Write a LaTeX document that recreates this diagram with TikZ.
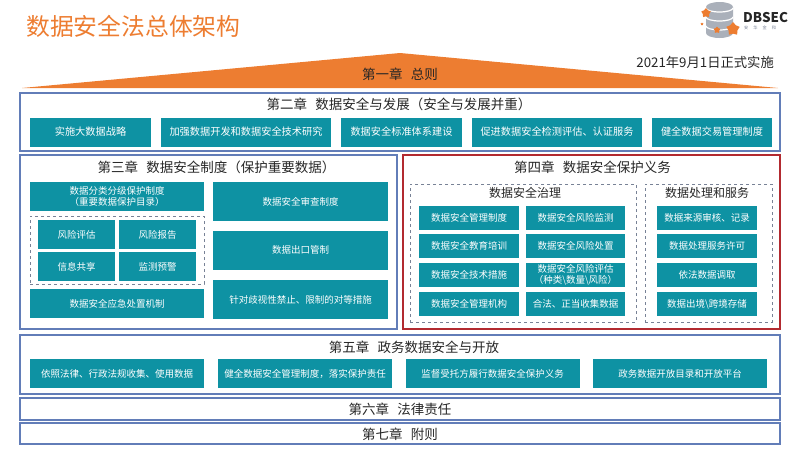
\documentclass[tikz,border=0pt]{standalone}
\usepackage{fontspec}
\setmainfont{Noto Sans CJK SC}
\usetikzlibrary{shapes.geometric}
\definecolor{dsorange}{RGB}{237,125,49}
\definecolor{dsteal}{RGB}{14,146,163}
\definecolor{dsblue}{RGB}{98,125,184}
\definecolor{dsred}{RGB}{178,42,48}
\definecolor{dsgrey}{RGB}{120,130,150}
\definecolor{dsink}{RGB}{38,38,38}
\definecolor{dslogo}{RGB}{170,176,186}
\newcommand{\chapgap}{\hspace{.6em}}

\tikzset{
  cell/.style 2 args={fill=dsteal,text=white,minimum width=#1pt,minimum height=#2pt,
    inner sep=0pt,align=center,font=\fontsize{9.5}{11.5}\selectfont},
  widecell/.style={font=\fontsize{10.2}{12}\selectfont},
  frame/.style 2 args={draw=dsblue,line width=1.6pt,minimum width=#1pt,minimum height=#2pt,inner sep=0pt},
  redframe/.style 2 args={draw=dsred,line width=1.6pt,minimum width=#1pt,minimum height=#2pt,inner sep=0pt},
  dashframe/.style 2 args={draw=dsgrey,dashed,line width=.8pt,minimum width=#1pt,minimum height=#2pt,inner sep=0pt},
  chapter/.style={text=dsink,inner sep=0pt,font=\fontsize{13.5}{16}\selectfont},
  subchapter/.style={chapter,font=\fontsize{12}{14}\selectfont},
}

\begin{document}
\begin{tikzpicture}[x=1pt,y=-1pt]
  \useasboundingbox (0,0) rectangle (799,461);
  % title and date
  \node[text=dsorange,anchor=west,inner sep=0pt,font=\fontsize{23.8}{28}\selectfont] (title) at (26,26) {数据安全法总体架构};
  \node[text=dsink,anchor=east,inner sep=0pt,font=\fontsize{13.3}{15}\selectfont] (date) at (774,62.5) {2021年9月1日正式实施};
  % logo
  \fill[dslogo] (706,7) -- (706,33) arc[x radius=13.5,y radius=5,start angle=180,end angle=0] -- (733,7) arc[x radius=13.5,y radius=5,start angle=0,end angle=-180] -- cycle;
  \draw[white,line width=1.2pt] (706,8) arc[x radius=13.5,y radius=4,start angle=180,end angle=0];
  \draw[white,line width=1.2pt] (706,17) arc[x radius=13.5,y radius=4,start angle=180,end angle=0];
  \draw[white,line width=1.2pt] (706,26) arc[x radius=13.5,y radius=4,start angle=180,end angle=0];
  \node[star,star points=5,fill=dsorange,minimum size=10pt,inner sep=0pt] (stara) at (706,13) {};
  \node[star,star points=5,fill=dsorange,minimum size=3pt,inner sep=0pt] (starb) at (702,24) {};
  \node[star,star points=5,fill=dsorange,minimum size=7pt,inner sep=0pt] (starc) at (717,30) {};
  \node[star,star points=5,fill=dsorange,minimum size=14pt,inner sep=0pt] (stard) at (733,29) {};
  \node[text=dsink,anchor=west,inner sep=0pt,font=\fontsize{13.4}{15}\bfseries\selectfont] (logo) at (743,18) {DBSEC};
  \node[text=dsgrey,anchor=west,inner sep=0pt,font=\fontsize{4.2}{5}\selectfont] (logosub) at (744,28) {安\hspace{1.2em}华\hspace{1.2em}金\hspace{1.2em}和};
  % chapter 1
  \fill[dsorange] (22,88) -- (400,53) -- (778,88) -- cycle;
  \node[chapter] (c1) at (400,74) {第一章\chapgap 总则};
  % chapter 2
  \node[frame={760}{58}] (f2) at (400,122) {};
  \node[chapter] (c2) at (399,104) {第二章\chapgap 数据安全与发展（安全与发展并重）};
  \node[cell={121}{29},widecell] (c2a) at (90.5,132) {实施大数据战略};
  \node[cell={170}{29},widecell] (c2b) at (246,132) {加强数据开发和数据安全技术研究};
  \node[cell={121}{29},widecell] (c2c) at (401.5,132) {数据安全标准体系建设};
  \node[cell={170}{29},widecell] (c2d) at (557,132) {促进数据安全检测评估、认证服务};
  \node[cell={120}{29},widecell] (c2e) at (712,132) {健全数据交易管理制度};
  % chapter 3
  \node[frame={377}{174}] (f3) at (208.5,242) {};
  \node[chapter] (c3) at (216.5,167) {第三章\chapgap 数据安全制度（保护重要数据）};
  \node[cell={174}{29}] (c3a) at (117,196.5) {数据分类分级保护制度\\（重要数据保护目录）};
  \node[dashframe={174}{68}] (d3) at (117,250) {};
  \node[cell={77}{29}] (c3b) at (76.5,234.5) {风险评估};
  \node[cell={77}{29}] (c3c) at (157.5,234.5) {风险报告};
  \node[cell={77}{29}] (c3d) at (76.5,266.5) {信息共享};
  \node[cell={77}{29}] (c3e) at (157.5,266.5) {监测预警};
  \node[cell={174}{29}] (c3f) at (117,303.5) {数据安全应急处置机制};
  \node[cell={175}{39}] (c3g) at (300.5,201.5) {数据安全审查制度};
  \node[cell={175}{39}] (c3h) at (300.5,250) {数据出口管制};
  \node[cell={175}{39}] (c3i) at (300.5,299.5) {针对歧视性禁止、限制的对等措施};
  % chapter 4
  \node[redframe={377}{174}] (f4) at (591.5,242) {};
  \node[chapter] (c4) at (592.5,167) {第四章\chapgap 数据安全保护义务};
  \node[dashframe={226}{138}] (d4a) at (523,253) {};
  \node[dashframe={127}{138}] (d4b) at (708.5,253) {};
  \node[subchapter] (t4a) at (525,193) {数据安全治理};
  \node[subchapter] (t4b) at (707,193) {数据处理和服务};
  \node[cell={100}{24}] (c4a) at (469,218) {数据安全管理制度};
  \node[cell={100}{24}] (c4b) at (469,246) {数据安全教育培训};
  \node[cell={100}{24}] (c4c) at (469,275) {数据安全技术措施};
  \node[cell={100}{24}] (c4d) at (469,304) {数据安全管理机构};
  \node[cell={99}{24}] (c4e) at (575.5,218) {数据安全风险监测};
  \node[cell={99}{24}] (c4f) at (575.5,246) {数据安全风险处置};
  \node[cell={99}{24}] (c4g) at (575.5,275) {数据安全风险评估\\（种类\textbackslash 数量\textbackslash 风险）};
  \node[cell={99}{24}] (c4h) at (575.5,304) {合法、正当收集数据};
  \node[cell={100}{24}] (c4i) at (707,218) {数据来源审核、记录};
  \node[cell={100}{24}] (c4j) at (707,246) {数据处理服务许可};
  \node[cell={100}{24}] (c4k) at (707,275) {依法数据调取};
  \node[cell={100}{24}] (c4l) at (707,304) {数据出境\textbackslash 跨境存储};
  % chapter 5
  \node[frame={760}{59}] (f5) at (400,364.5) {};
  \node[chapter] (c5) at (414,347) {第五章\chapgap 政务数据安全与开放};
  \node[cell={174}{29}] (c5a) at (117,373.5) {依照法律、行政法规收集、使用数据};
  \node[cell={174}{29}] (c5b) at (305,373.5) {健全数据安全管理制度，落实保护责任};
  \node[cell={174}{29}] (c5c) at (492.5,373.5) {监督受托方履行数据安全保护义务};
  \node[cell={174}{29}] (c5d) at (680,373.5) {政务数据开放目录和开放平台};
  % chapter 6 and 7
  \node[frame={760}{22}] (f6) at (400,409) {};
  \node[chapter] (c6) at (400,409) {第六章\chapgap 法律责任};
  \node[frame={760}{21}] (f7) at (400,433.5) {};
  \node[chapter] (c7) at (400,434) {第七章\chapgap 附则};
\end{tikzpicture}
\end{document}
